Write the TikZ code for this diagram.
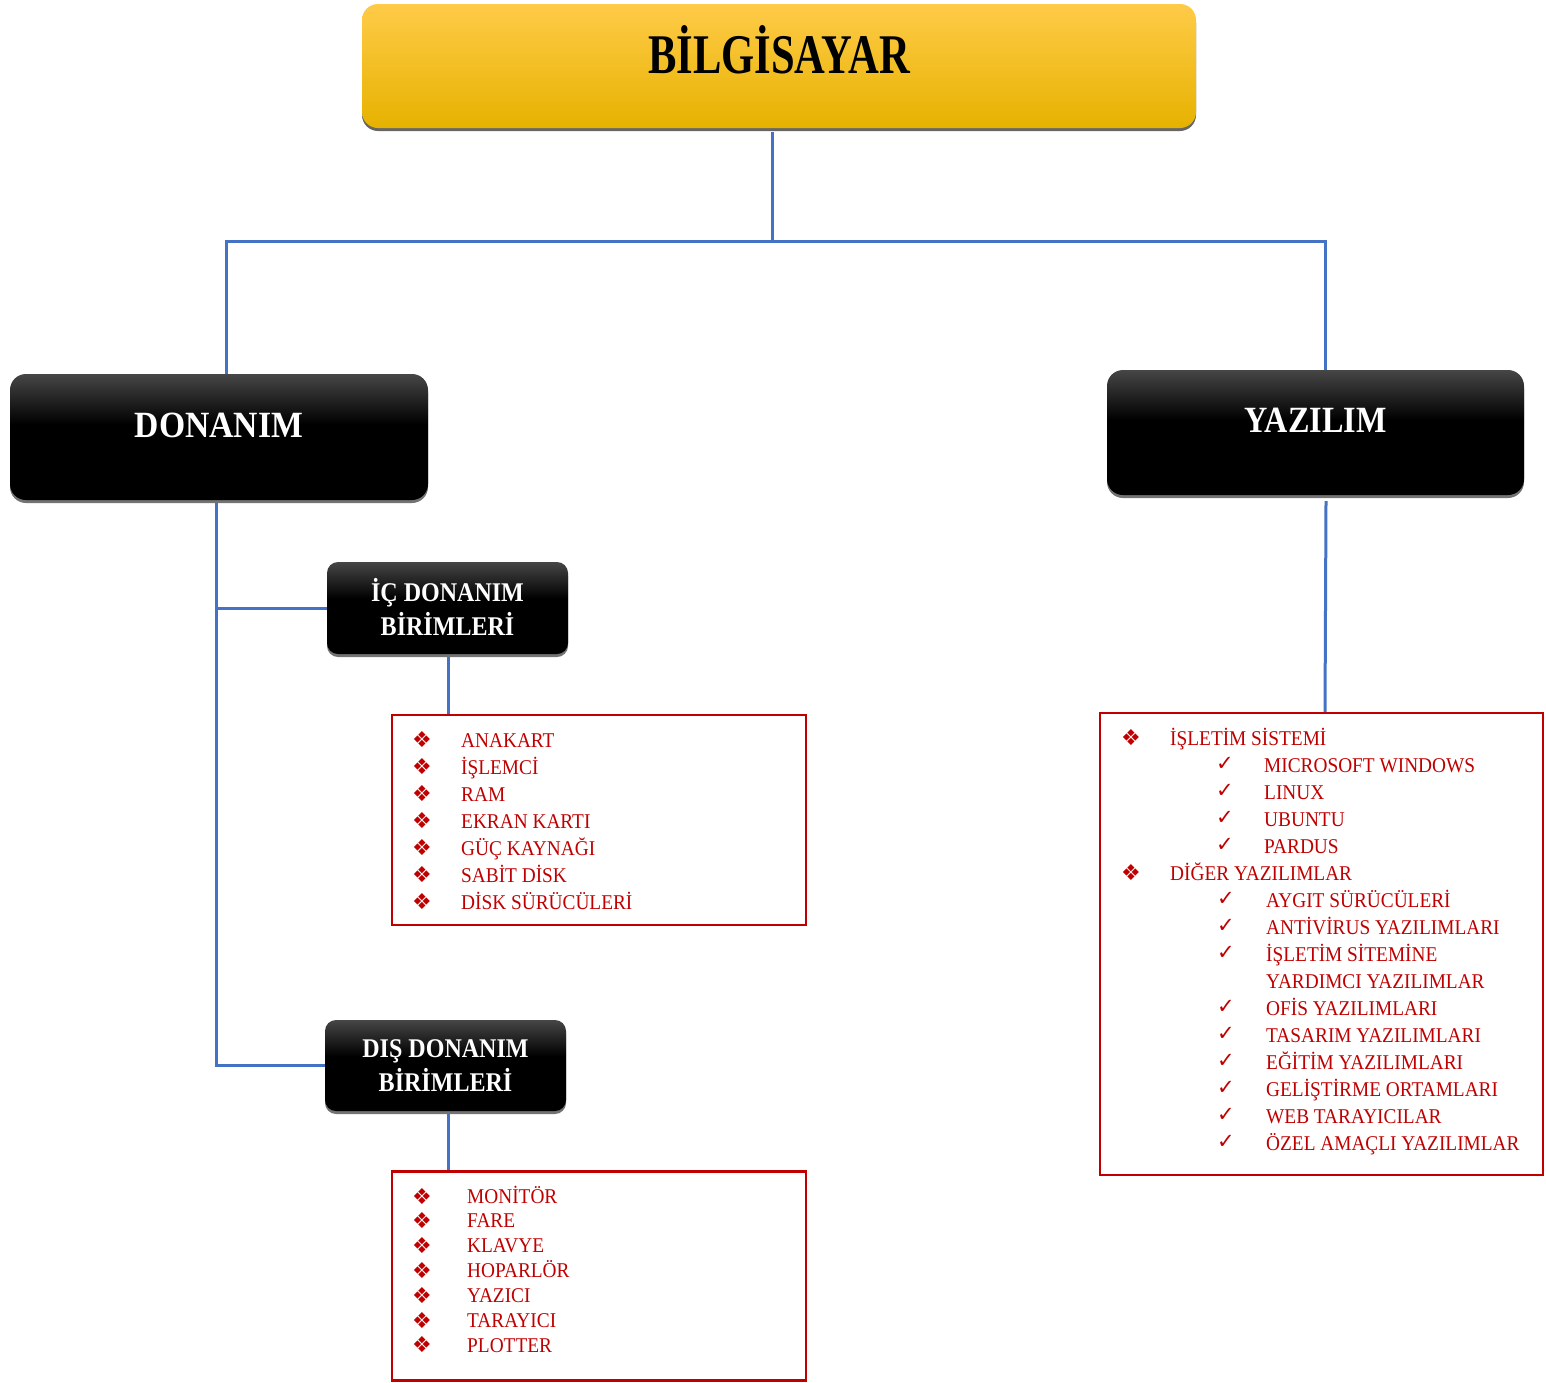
\documentclass[tikz,border=0pt]{standalone}
\usepackage{fontspec}
\usepackage{graphicx}
\setmainfont{Liberation Serif}
\newfontfamily\symfont{DejaVu Sans}
\usetikzlibrary{shadows}
\definecolor{linkblue}{HTML}{4472C4}
\definecolor{itemred}{HTML}{C00000}
\definecolor{goldtop}{HTML}{FFCB48}
\definecolor{goldmid}{HTML}{FFC700}
\definecolor{goldbot}{HTML}{E6B200}
\definecolor{darktop}{HTML}{464646}
\pgfdeclareverticalshading{darkgrad}{100bp}{color(0bp)=(black); color(25bp)=(black); color(55bp)=(black); color(75bp)=(darktop); color(100bp)=(darktop)}
\newcommand\hsq[2]{\scalebox{#1}[1]{#2}}
\tikzset{
  link/.style={draw=linkblue, line width=3pt},
  goldbox/.style={rounded corners=16pt, top color=goldtop, middle color=goldmid, bottom color=goldbot,
    draw=none, drop shadow={shadow xshift=0pt, shadow yshift=-3pt, fill=black!60, opacity=1},
    inner sep=0pt},
  darkbox/.style={rounded corners=16pt, shading=darkgrad,
    draw=none, drop shadow={shadow xshift=0pt, shadow yshift=-3pt, fill=black!55, opacity=1},
    inner sep=0pt, text=white, font=\bfseries},
  smallbox/.style={darkbox, rounded corners=11pt, align=center,
    font=\fontsize{27}{34}\selectfont\bfseries},
  listbox/.style={draw=itemred, line width=2.5pt, fill=white, inner sep=0pt},
  itemtext/.style={anchor=base west, inner sep=0pt, text=itemred, font=\fontsize{21}{21}\selectfont},
  diabul/.style={anchor=center, inner sep=0pt, text=itemred, font=\symfont\fontsize{22}{22}\selectfont},
  chkbul/.style={anchor=center, inner sep=0pt, text=itemred, font=\symfont\fontsize{21}{21}\selectfont},
  bigtext/.style={inner sep=0pt, font=\fontsize{56}{56}\selectfont\bfseries},
  midtext/.style={inner sep=0pt, text=white, font=\fontsize{37}{37}\selectfont\bfseries}
}
\begin{document}
\begin{tikzpicture}[x=1pt,y=-1pt]
\useasboundingbox[fill=white] (0,0) rectangle (1546,1382);

% boxes
\node[goldbox, minimum width=834pt, minimum height=124pt] (bilg) at (779,66) {};
\node[bigtext] (bilgt) at ([yshift=16pt]bilg.center) {\hsq{0.76}{BİLGİSAYAR}};

\node[darkbox, minimum width=418pt, minimum height=126pt] (donanim) at (219,437) {};
\node[midtext] (donanimt) at ([yshift=11.5pt]donanim.center) {\hsq{0.91}{DONANIM}};

\node[darkbox, minimum width=417pt, minimum height=125pt] (yazilim) at (1315.5,432.5) {};
\node[midtext] (yazilimt) at ([yshift=12.5pt]yazilim.center) {\hsq{0.87}{YAZILIM}};

\node[smallbox, minimum width=241pt, minimum height=92pt] (ic) at (447.5,608)
  {\raisebox{2pt}{\hsq{0.89}{İÇ DONANIM}}\\\raisebox{2pt}{\hsq{0.89}{BİRİMLERİ}}};
\node[smallbox, minimum width=241pt, minimum height=91pt] (dis) at (445.5,1065.5)
  {\hsq{0.89}{DIŞ DONANIM}\\\hsq{0.89}{BİRİMLERİ}};

\node[listbox, minimum width=414pt, minimum height=210pt] (list1) at (599,820) {};
\node[listbox, minimum width=414pt, minimum height=209pt] (list2) at (599,1276) {};
\node[listbox, minimum width=443pt, minimum height=462pt] (list3) at (1321.5,944) {};

% connectors
\coordinate (j) at (772,241);
\coordinate (dv) at ([xshift=-3pt,yshift=-3pt]donanim.south);
\draw[link] ([xshift=-7pt,yshift=-4pt]bilg.south) -- (j);
\draw[link] ([xshift=7pt]donanim.north) |- (j) -| ([xshift=9.5pt]yazilim.north);
\draw[link] (dv) |- (dis.west);
\draw[link] (ic.west) -- (ic.west -| dv);
\draw[link] ([xshift=0.5pt,yshift=-3pt]ic.south) -- ([xshift=0.5pt]ic.south |- list1.north);
\draw[link] ([xshift=2.5pt,yshift=-3pt]dis.south) -- ([xshift=2.5pt]dis.south |- list2.north);
\draw[link] ([xshift=10.5pt,yshift=-6pt]yazilim.south) -- ([xshift=9.5pt]yazilim.south |- list3.north);

% list 1
\foreach \t [count=\i from 0] in {ANAKART,İŞLEMCİ,RAM,EKRAN KARTI,GÜÇ KAYNAĞI,SABİT DİSK,DİSK SÜRÜCÜLERİ}{
  \node[diabul] (l1b\i) at (422,740+27*\i) {❖};
  \node[itemtext] (l1t\i) at (461,747+27*\i) {\hsq{0.92}{\t}};
}
% list 2
\foreach \t [count=\i from 0] in {MONİTÖR,FARE,KLAVYE,HOPARLÖR,YAZICI,TARAYICI,PLOTTER}{
  \node[diabul] (l2b\i) at (422,1196+24.83*\i) {❖};
  \node[itemtext] (l2t\i) at (467,1203+24.83*\i) {\hsq{0.92}{\t}};
}
% list 3
\node[diabul] (l3b0) at (1131,738) {❖};
\node[itemtext] (l3t0) at (1170,745) {\hsq{0.92}{İŞLETİM SİSTEMİ}};
\foreach \t [count=\i from 1] in {MICROSOFT WINDOWS,LINUX,UBUNTU,PARDUS}{
  \node[chkbul] (l3c\i) at (1225,737+27*\i) {✓};
  \node[itemtext] (l3s\i) at (1264,745+27*\i) {\hsq{0.92}{\t}};
}
\node[diabul] (l3b1) at (1131,873) {❖};
\node[itemtext] (l3t1) at (1170,880) {\hsq{0.92}{DİĞER YAZILIMLAR}};
\foreach \t [count=\i from 6] in {AYGIT SÜRÜCÜLERİ,ANTİVİRUS YAZILIMLARI,İŞLETİM SİTEMİNE}{
  \node[chkbul] (l3c\i) at (1226,737+27*\i) {✓};
  \node[itemtext] (l3s\i) at (1266,745+27*\i) {\hsq{0.92}{\t}};
}
\node[itemtext] (l3s9) at (1266,988) {\hsq{0.92}{YARDIMCI YAZILIMLAR}};
\foreach \t [count=\i from 10] in {OFİS YAZILIMLARI,TASARIM YAZILIMLARI,EĞİTİM YAZILIMLARI,GELİŞTİRME ORTAMLARI,WEB TARAYICILAR,ÖZEL AMAÇLI YAZILIMLAR}{
  \node[chkbul] (l3c\i) at (1226,737+27*\i) {✓};
  \node[itemtext] (l3s\i) at (1266,745+27*\i) {\hsq{0.92}{\t}};
}
\end{tikzpicture}
\end{document}
